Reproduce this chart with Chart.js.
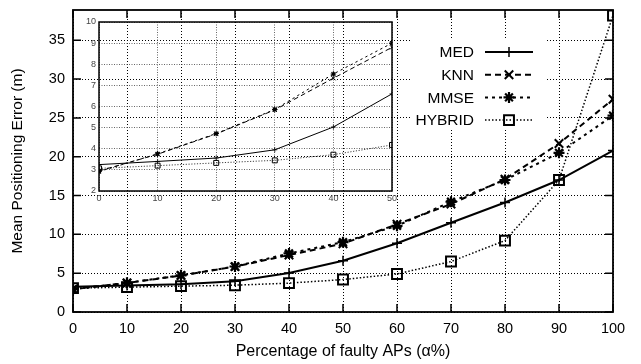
<!DOCTYPE html>
<html>
<head>
<meta charset="utf-8">
<script src="https://cdn.jsdelivr.net/npm/chart.js@4.4.1/dist/chart.umd.min.js"></script>
<style>
html,body{margin:0;padding:0;background:#fff;}
#wrap{position:relative;width:641px;height:364px;}
#main{position:absolute;left:0;top:0;}
#inset{position:absolute;left:75px;top:14px;}
</style>
</head>
<body>
<div id="wrap">
<canvas id="main" width="641" height="364"></canvas>
<canvas id="inset" width="325" height="200"></canvas>
</div>
<script>
// ---- data ----
const alpha  = [0, 10, 20, 30, 40, 50, 60, 70, 80, 90, 100];
const med    = [3.25, 3.40, 3.56, 3.95, 5.03, 6.60, 8.85, 11.5, 14.1, 17.0, 20.8];
const knn    = [2.95, 3.74, 4.70, 5.84, 7.34, 8.80, 11.3, 13.9, 17.1, 21.7, 27.4];
const mmse   = [2.92, 3.76, 4.72, 5.86, 7.54, 9.00, 11.1, 14.2, 17.0, 20.5, 25.3];
const hybrid = [3.07, 3.20, 3.33, 3.45, 3.72, 4.18, 4.90, 6.50, 9.20, 17.0, 38.2];
const seriesNames = ['MED', 'KNN', 'MMSE', 'HYBRID'];
const insetMaxAlpha = 50;
const xTitle = 'Percentage of faulty APs (\u03b1%)';
const yTitle = 'Mean Positioning Error (m)';

const FONT = "'Liberation Sans', Arial, Helvetica, sans-serif";
const series = [med, knn, mmse, hybrid];
const styles = [
  {dash: [], style: 'cross', r: 5, bw: 2, pbw: 1.5},
  {dash: [6, 4], style: 'crossRot', r: 6, bw: 2, pbw: 2},
  {dash: [3, 4], style: 'star', r: 5.5, bw: 2, pbw: 2.2},
  {dash: [1.5, 2], style: 'rect', r: 7, bw: 1.5, pbw: 2}
];

function pts(arr, maxX) {
  const out = [];
  alpha.forEach((a, i) => { if (a <= maxX) out.push({x: a, y: arr[i]}); });
  return out;
}

function makeDatasets(maxX, scale) {
  return series.map((arr, i) => {
    const s = styles[i];
    return {
      label: seriesNames[i],
      data: pts(arr, maxX),
      borderColor: '#000',
      backgroundColor: 'rgba(0,0,0,0)',
      borderWidth: s.bw * scale,
      borderDash: s.dash.map(d => d * (scale < 1 ? 0.8 : 1)),
      pointStyle: s.style,
      pointRadius: s.r * scale,
      pointBorderWidth: s.pbw * scale,
      pointBorderColor: '#000',
      pointBackgroundColor: 'rgba(0,0,0,0)',
      tension: 0
    };
  });
}

function drawMarker(ctx, style, r, bw, x, y) {
  ctx.save();
  ctx.setLineDash([]);
  ctx.strokeStyle = '#000';
  ctx.fillStyle = 'rgba(0,0,0,0)';
  ctx.lineWidth = bw;
  if (Chart.helpers && Chart.helpers.drawPoint) {
    Chart.helpers.drawPoint(ctx, {pointStyle: style, radius: r, rotation: 0, borderWidth: bw}, x, y);
  }
  ctx.restore();
}

const framePlugin = {
  id: 'frame',
  afterDraw(chart, args, opts) {
    const {ctx, chartArea: a} = chart;
    ctx.save();
    ctx.setLineDash([]);
    ctx.strokeStyle = '#000';
    ctx.lineWidth = opts.width;
    ctx.strokeRect(a.left, a.top, a.right - a.left, a.bottom - a.top);
    if (opts.tick > 0) {
      ctx.lineWidth = 1.5;
      ctx.beginPath();
      const xs = chart.scales.x, ys = chart.scales.y;
      xs.ticks.forEach(t => {
        const px = xs.getPixelForValue(t.value);
        ctx.moveTo(px, a.bottom); ctx.lineTo(px, a.bottom - opts.tick);
        ctx.moveTo(px, a.top); ctx.lineTo(px, a.top + opts.tick);
      });
      ys.ticks.forEach(t => {
        const py = ys.getPixelForValue(t.value);
        ctx.moveTo(a.left, py); ctx.lineTo(a.left + opts.tick, py);
        ctx.moveTo(a.right, py); ctx.lineTo(a.right - opts.tick, py);
      });
      ctx.stroke();
    }
    ctx.restore();
  }
};

const keyPlugin = {
  id: 'key',
  afterDraw(chart) {
    const {ctx} = chart;
    ctx.save();
    ctx.fillStyle = '#fff';
    ctx.fillRect(412, 40, 133, 90);
    const textRight = 474, x0 = 485, x1 = 533, xm = 509;
    chart.data.datasets.forEach((ds, i) => {
      const y = 52 + i * 22.7;
      ctx.fillStyle = '#000';
      ctx.font = '15.5px ' + FONT;
      ctx.textAlign = 'right';
      ctx.textBaseline = 'middle';
      ctx.fillText(ds.label, textRight, y + 1);
      ctx.strokeStyle = '#000';
      ctx.lineWidth = ds.borderWidth;
      ctx.setLineDash(ds.borderDash);
      ctx.beginPath();
      ctx.moveTo(x0, y); ctx.lineTo(x1, y);
      ctx.stroke();
      drawMarker(ctx, ds.pointStyle, ds.pointRadius, ds.pointBorderWidth, xm, y);
    });
    ctx.restore();
  }
};

// ---- main chart ----
new Chart(document.getElementById('main'), {
  type: 'line',
  data: {datasets: makeDatasets(100, 1)},
  options: {
    responsive: false, animation: false, devicePixelRatio: 1,
    layout: {padding: {top: 10, right: 28, left: 0, bottom: 0}},
    plugins: {legend: {display: false}, tooltip: {enabled: false}, frame: {width: 1.8, tick: 8}},
    scales: {
      x: {
        type: 'linear', min: 0, max: 100,
        ticks: {stepSize: 10, color: '#000', font: {family: FONT, size: 14.5}, padding: 8, maxRotation: 0},
        grid: {color: '#000', lineWidth: 1, drawTicks: false},
        border: {display: false, dash: [1, 2]},
        title: {display: true, text: xTitle, color: '#000', font: {family: FONT, size: 16}, padding: {top: 3, bottom: 3}},
        afterFit(s) { s.height = 52; s.paddingLeft = 0; s.paddingRight = 0; }
      },
      y: {
        type: 'linear', min: 0, max: 38.9,
        ticks: {stepSize: 5, color: '#000', font: {family: FONT, size: 14.5}, padding: 8},
        afterBuildTicks(s) { s.ticks = s.ticks.filter(t => Math.abs(t.value % 5) < 1e-6); },
        grid: {color: '#000', lineWidth: 1, drawTicks: false},
        border: {display: false, dash: [1, 2]},
        title: {display: true, text: yTitle, color: '#000', font: {family: FONT, size: 15.5}, padding: {top: 8, bottom: 0}},
        afterFit(s) { s.width = 73; s.paddingTop = 0; s.paddingBottom = 0; }
      }
    }
  },
  plugins: [framePlugin, keyPlugin]
});

// ---- inset chart ----
new Chart(document.getElementById('inset'), {
  type: 'line',
  data: {datasets: makeDatasets(insetMaxAlpha, 0.5)},
  options: {
    responsive: false, animation: false, devicePixelRatio: 1,
    layout: {padding: {top: 8, right: 8, left: 0, bottom: 0}},
    plugins: {legend: {display: false}, tooltip: {enabled: false}, frame: {width: 1.5, tick: 0}},
    scales: {
      x: {
        type: 'linear', min: 0, max: insetMaxAlpha,
        ticks: {stepSize: 10, color: '#444', font: {family: FONT, size: 9}, padding: 2, maxRotation: 0},
        grid: {color: '#666', lineWidth: 1, drawTicks: false},
        border: {display: false, dash: [1, 1.5]},
        afterFit(s) { s.height = 23; s.paddingLeft = 0; s.paddingRight = 0; }
      },
      y: {
        type: 'linear', min: 2, max: 10,
        ticks: {stepSize: 1, color: '#444', font: {family: FONT, size: 9}, padding: 3},
        grid: {color: '#666', lineWidth: 1, drawTicks: false},
        border: {display: false, dash: [1, 1.5]},
        afterFit(s) { s.width = 24; s.paddingTop = 0; s.paddingBottom = 0; }
      }
    }
  },
  plugins: [framePlugin]
});
</script>
</body>
</html>
